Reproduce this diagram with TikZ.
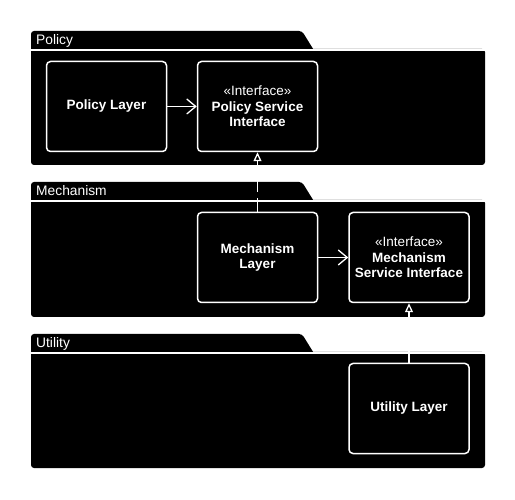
\documentclass[tikz,border=0pt]{standalone}
\usepackage{fontspec}
\setmainfont{Liberation Sans}
\usetikzlibrary{arrows.meta}

\begin{document}
\begin{tikzpicture}[x=1pt,y=-1pt,
 comp/.style={draw=white, line width=1.5pt, fill=black, rounded corners=4pt,
   minimum width=120pt, minimum height=90pt, text=white,
   font=\bfseries\fontsize{13.5}{15.5}\selectfont, align=center, inner sep=2pt},
 pkgfill/.style={fill=black},
 pkgline/.style={draw=white, line width=1.5pt},
 pkglabel/.style={text=white, font=\fontsize{13.8}{15}\selectfont, anchor=base west, inner sep=0pt},
 dep/.style={draw=white, line width=1.3pt, -{Straight Barb[length=9pt,width=15pt,line width=1.3pt]}},
 real/.style={draw=white, line width=1.3pt, dash pattern=on 14pt off 6pt,
   -{Triangle[open, length=9pt, width=8pt, fill=black, line width=1.3pt]}}
]
\useasboundingbox (0,0) rectangle (515,500);
\fill[white] (0,0) rectangle (515,500);

% packages
\foreach \yt/\yb/\nm in {31/165/Policy, 182/317/Mechanism, 334/468/Utility}{
  \fill[pkgfill,rounded corners=3pt] (31,\yt+18) rectangle (485,\yb);
  \fill[pkgfill] (31,\yt+21) [rounded corners=3pt] -- (31,\yt) -- (302,\yt) [sharp corners] -- (315,\yt+21) -- cycle;
  \draw[pkgline] (31,\yt+19) -- (485,\yt+19);
}
\node[pkglabel] (lpol) at (36,45) {Policy};
\node[pkglabel] (lmec) at (36,196) {Mechanism};
\node[pkglabel] (luti) at (36,348) {Utility};

% components
\node[comp] (pl) at (106.5,106.5) {Policy Layer};
\node[comp] (psi) at (257.5,106.5) {\mdseries«Interface»\\Policy Service\\Interface};
\node[comp] (ml) at (257.5,257.5) {Mechanism\\Layer};
\node[comp] (msi) at (409,257.5) {\mdseries«Interface»\\Mechanism\\Service Interface};
\node[comp] (ul) at (409,408.5) {Utility Layer};

% connectors
\draw[dep] (pl) -- (psi);
\draw[dep] (ml) -- (msi);
\draw[real] (ml) -- (psi);
\draw[real] (ul) -- (msi);
\end{tikzpicture}
\end{document}
